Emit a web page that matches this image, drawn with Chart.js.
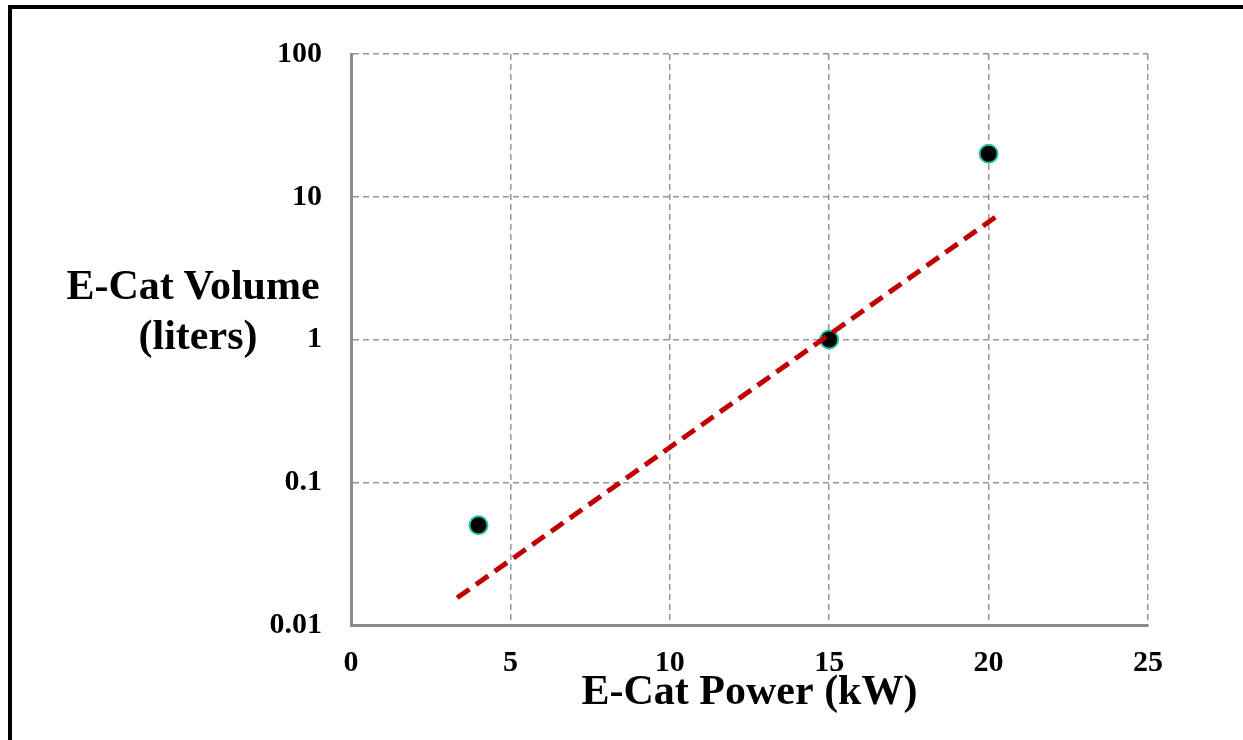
<!DOCTYPE html>
<html>
<head>
<meta charset="utf-8">
<title>E-Cat Volume vs Power</title>
<script src="https://cdn.jsdelivr.net/npm/chart.js@4/dist/chart.umd.min.js"></script>
<style>
  html, body { margin: 0; padding: 0; background: #fff; overflow: hidden; }
  #wrap { position: relative; width: 1243px; height: 740px; }
  #frame {
    position: absolute; left: 8px; top: 5px; width: 1400px; height: 900px;
    border-left: 4px solid #000; border-top: 4px solid #000; pointer-events: none;
  }
  #yTitle {
    position: absolute; left: 38px; top: 260px; width: 310px;
    text-align: center; font: bold 42px "Liberation Serif", "Times New Roman", serif;
    line-height: 50px; color: #000;
  }
  #yTitle span { padding-left: 10px; }
</style>
</head>
<body>
<div id="wrap">
  <canvas id="chart"></canvas>
  <div id="frame"></div>
  <div id="yTitle">E-Cat Volume<br><span>(liters)</span></div>
</div>
<script>
'use strict';

/* ── 데이터 ─────────────────────────────── */
const powerKW  = [4, 15, 20];
const volumeL  = [0.05, 1, 20];
const trendX   = [3.33, 20.4];
const trendY   = [0.0155, 7.7];
const xTicks   = [0, 5, 10, 15, 20, 25];
const yTicks   = [0.01, 0.1, 1, 10, 100];

const FONT = '"Liberation Serif", "Times New Roman", serif';
const GRID = '#969696';
const AXIS = '#8c8c8c';

function pts(xs, ys) { return xs.map((x, i) => ({ x, y: ys[i] })); }

const canvas = document.getElementById('chart');
canvas.width = 1243;
canvas.height = 740;

new Chart(canvas.getContext('2d'), {
  type: 'scatter',
  data: {
    datasets: [
      {
        label: 'Trend',
        data: pts(trendX, trendY),
        showLine: true,
        borderColor: '#c00000',
        borderWidth: 5,
        borderDash: [15, 8],
        pointRadius: 0,
        fill: false,
      },
      {
        label: 'E-Cat',
        data: pts(powerKW, volumeL),
        backgroundColor: '#000000',
        borderColor: '#22c3a4',
        borderWidth: 2,
        pointRadius: 9,
      },
    ],
  },
  options: {
    responsive: false,
    animation: false,
    layout: { padding: { top: 54, right: 95, left: 0, bottom: 0 } },
    plugins: { legend: { display: false }, tooltip: { enabled: false } },
    scales: {
      x: {
        type: 'linear',
        min: 0, max: 25,
        afterBuildTicks: s => { s.ticks = xTicks.map(v => ({ value: v })); },
        afterFit: s => { s.height = 115; },
        grid: { color: GRID, lineWidth: 1.5, drawTicks: false },
        border: { color: AXIS, width: 3, dash: [6, 4] },
        ticks: { color: '#000', padding: 20, font: { family: FONT, size: 30, weight: 'bold' } },
        title: {
          display: true, text: 'E-Cat Power (kW)', color: '#000',
          padding: { top: 0, bottom: 22 },
          font: { family: FONT, size: 42, weight: 'bold' },
        },
      },
      y: {
        type: 'logarithmic',
        min: 0.01, max: 100,
        afterBuildTicks: s => { s.ticks = yTicks.map(v => ({ value: v })); },
        afterFit: s => { s.width = 351; },
        grid: { color: GRID, lineWidth: 1.5, drawTicks: false },
        border: { color: AXIS, width: 3, dash: [6, 4] },
        ticks: {
          color: '#000', padding: 29,
          font: { family: FONT, size: 30, weight: 'bold' },
          callback: v => String(v),
        },
      },
    },
  },
});
</script>
</body>
</html>
